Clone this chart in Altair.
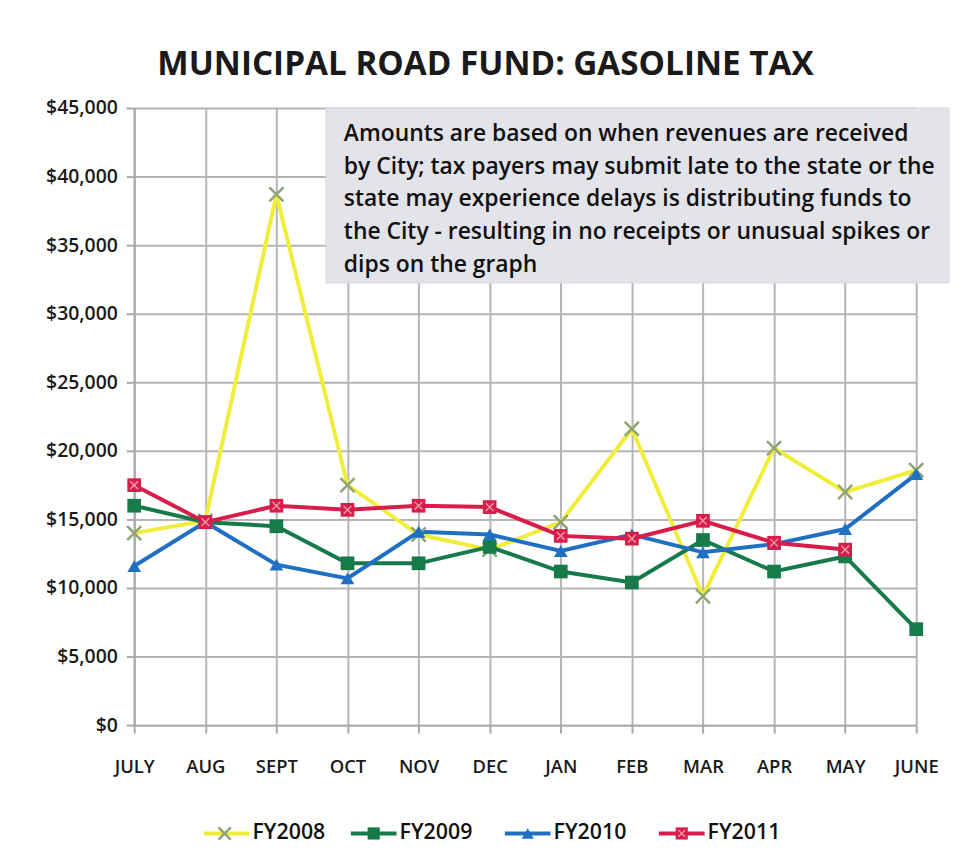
import altair as alt
import pandas as pd

months = ["JULY", "AUG", "SEPT", "OCT", "NOV", "DEC", "JAN", "FEB", "MAR", "APR", "MAY", "JUNE"]
series = ["FY2008", "FY2009", "FY2010", "FY2011"]
fy2008 = [14000, 14900, 38700, 17500, 13900, 12800, 14800, 21600, 9400, 20200, 17000, 18600]
fy2009 = [16000, 14800, 14500, 11800, 11800, 13000, 11200, 10400, 13500, 11200, 12300, 7000]
fy2010 = [11600, 14800, 11700, 10700, 14100, 13900, 12700, 13900, 12600, 13200, 14300, 18300]
fy2011 = [17500, 14800, 16000, 15700, 16000, 15900, 13800, 13600, 14900, 13300, 12800, None]
colors = ["#f0ee3a", "#167a4b", "#1f70c2", "#d81d4b"]
y_ticks = [0, 5000, 10000, 15000, 20000, 25000, 30000, 35000, 40000, 45000]

note_text = ("Amounts are based on when revenues are received\n"
             "by City; tax payers may submit late to the state or the\n"
             "state may experience delays is distributing funds to\n"
             "the City - resulting in no receipts or unusual spikes or\n"
             "dips on the graph")

rows = []
for name, vals in zip(series, [fy2008, fy2009, fy2010, fy2011]):
    for m, v in zip(months, vals):
        if v is not None:
            rows.append({"month": m, "series": name, "value": v})
df = pd.DataFrame(rows)

FONT = "Open Sans"
XPATH = "M-1,-1L1,1M-1,1L1,-1"
X_MARK_COLOR = "#8ea478"

x_enc = alt.X("month:N", sort=months, scale=alt.Scale(type="point", padding=0),
              axis=alt.Axis(title=None, labelAngle=0, grid=True, labelFontSize=18.5))
y_enc = alt.Y("value:Q", scale=alt.Scale(domain=[0, 45000], nice=False),
              axis=alt.Axis(title=None, values=y_ticks, format="$,.0f", grid=True,
                            labelFontSize=19.5))
color_scale = alt.Scale(domain=series, range=colors)

base = alt.Chart(df).encode(x=x_enc, y=y_enc)

lines = base.mark_line(strokeWidth=4).encode(
    color=alt.Color("series:N", scale=color_scale, legend=None),
)

pts = base.transform_filter(alt.datum.series != "FY2008").mark_point(
    filled=True, opacity=1, size=190).encode(
    color=alt.Color("series:N", scale=color_scale, legend=None),
    shape=alt.Shape("series:N", scale=alt.Scale(domain=["FY2009", "FY2010", "FY2011"],
                                                range=["square", "triangle-up", "square"]),
                    legend=None),
)

xmarks = base.transform_filter(alt.datum.series == "FY2008").mark_point(
    shape=XPATH, size=200, stroke=X_MARK_COLOR, strokeWidth=2.5, filled=False, opacity=1)

red_x = base.transform_filter(alt.datum.series == "FY2011").mark_point(
    shape=XPATH, size=60, stroke="#f2a0b8", strokeWidth=1.3, filled=False, opacity=1)

one = pd.DataFrame({"note": [note_text]})

box = alt.Chart(one).mark_rect(
    fill="#e3e3ea", stroke="#d6d6de", strokeWidth=1).encode(
    x=alt.value(193), x2=alt.value(820), y=alt.value(0), y2=alt.value(176))

note = alt.Chart(one).mark_text(
    align="left", baseline="alphabetic", font=FONT, fontSize=23, fontWeight=600,
    color="#111", lineBreak="\n", lineHeight=33).encode(
    x=alt.value(211), y=alt.value(33), text="note:N")

# manual legend (line + marker + label), positioned below the axis
leg_start = [70, 218, 373, 528]
leg_y = 730
leg_shapes = [XPATH, "square", "triangle-up", "square"]
legend_layers = []
for i, name in enumerate(series):
    x0 = leg_start[i]
    legend_layers.append(alt.Chart(one).mark_rule(strokeWidth=4, color=colors[i]).encode(
        x=alt.value(x0), x2=alt.value(x0 + 46), y=alt.value(leg_y)))
    if i == 0:
        legend_layers.append(alt.Chart(one).mark_point(
            shape=XPATH, size=150, stroke=X_MARK_COLOR, strokeWidth=2.5, filled=False,
            opacity=1).encode(x=alt.value(x0 + 21), y=alt.value(leg_y)))
    else:
        legend_layers.append(alt.Chart(one).mark_point(
            shape=leg_shapes[i], size=150, color=colors[i], filled=True,
            opacity=1).encode(x=alt.value(x0 + 23), y=alt.value(leg_y)))
        if i == 3:
            legend_layers.append(alt.Chart(one).mark_point(
                shape=XPATH, size=45, stroke="#f2a0b8", strokeWidth=1.2, filled=False,
                opacity=1).encode(x=alt.value(x0 + 23), y=alt.value(leg_y)))
    legend_layers.append(alt.Chart(one).mark_text(
        align="left", baseline="middle", font=FONT, fontSize=21.5, fontWeight=600,
        color="#111").encode(
        x=alt.value(x0 + 49), y=alt.value(leg_y), text=alt.value(name)))

chart = alt.layer(lines, xmarks, pts, red_x, box, note, *legend_layers).properties(
    width=787, height=621,
    padding={"left": 127, "top": 98, "right": 40, "bottom": 125},
    autosize=alt.AutoSizeParams(type="none"),
    title=alt.Title("MUNICIPAL ROAD FUND: GASOLINE TAX", font=FONT, fontSize=33.5,
                    fontWeight="bold", color="#1a1a1a", anchor="middle", frame="group",
                    baseline="alphabetic", offset=28, dx=-40, dy=38),
).configure_view(stroke=None).configure_axis(
    gridColor="#b5b5b5", gridWidth=2, domainColor="#a8a8a8", domainWidth=2,
    tickColor="#a8a8a8", tickWidth=2, tickSize=8,
    labelFont=FONT, labelFontWeight=600, labelColor="#1a1a1a",
).configure_axisY(labelPadding=9).configure_axisX(labelPadding=25)

chart.save("out.html", embed_options={"renderer": "svg", "actions": False})
